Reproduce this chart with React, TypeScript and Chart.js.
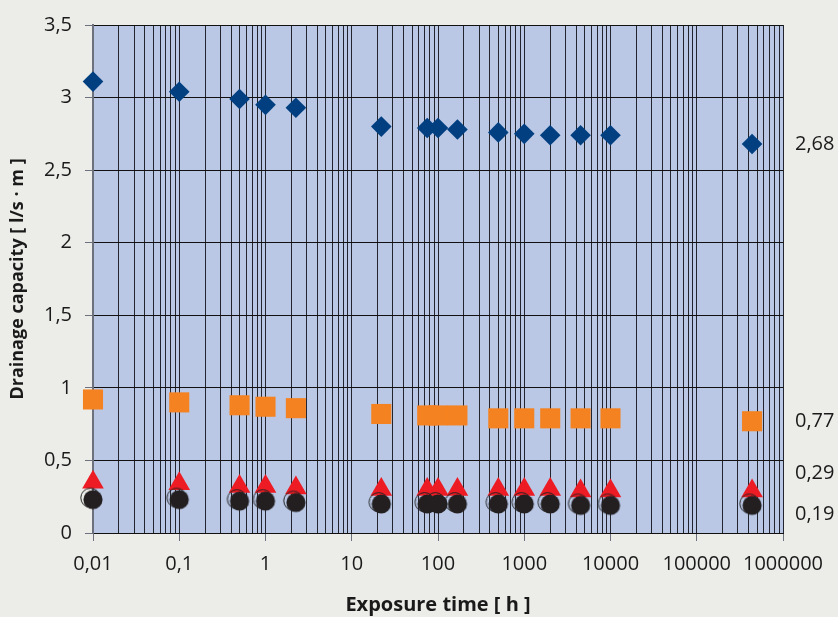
import React, { useEffect, useRef } from 'react';
import { Chart, registerables } from 'chart.js';

Chart.register(...registerables);

// ---------- data ----------
const EXPOSURE_HOURS = [0.01, 0.1, 0.5, 1, 2.25, 22, 75, 100, 168, 500, 1000, 2000, 4500, 10000, 438000];
const DIAMOND_VALUES = [3.11, 3.04, 2.99, 2.95, 2.93, 2.8, 2.79, 2.79, 2.78, 2.76, 2.75, 2.74, 2.74, 2.74, 2.68];
const SQUARE_VALUES = [0.92, 0.9, 0.88, 0.87, 0.86, 0.82, 0.81, 0.81, 0.81, 0.79, 0.79, 0.79, 0.79, 0.79, 0.77];
const TRIANGLE_VALUES = [0.35, 0.34, 0.32, 0.32, 0.31, 0.3, 0.3, 0.3, 0.3, 0.3, 0.3, 0.3, 0.29, 0.29, 0.29];
const CIRCLE_VALUES = [0.23, 0.23, 0.22, 0.22, 0.21, 0.2, 0.2, 0.2, 0.2, 0.2, 0.2, 0.2, 0.19, 0.19, 0.19];

const X_MAJOR_TICKS = [0.01, 0.1, 1, 10, 100, 1000, 10000, 100000, 1000000];
const X_TICK_LABELS = ['0,01', '0,1', '1', '10', '100', '1000', '10000', '100000', '1000000'];
const Y_MIN = 0;
const Y_MAX = 3.5;
const Y_STEP = 0.5;

const X_TITLE = 'Exposure time [ h ]';
const Y_TITLE = 'Drainage capacity [ l/s · m ]';

// ---------- styles ----------
const FONT = "'Open Sans', 'Noto Sans', sans-serif";
const PAGE_BG = '#ecece8';
const PLOT_BG = '#bac8e6';
const GRID = '#22252e';
const AXIS_GRAY = '#6c717d';
const TEXT = '#1a1a1a';
const DIAMOND_COLOR = '#013f80';
const SQUARE_COLOR = '#f58220';
const TRIANGLE_COLOR = '#ed1c24';
const CIRCLE_COLOR = '#231f20';
// vertical pixel nudges for the end-value labels (to avoid overlap)
const END_LABEL_NUDGE = [0, 0, -18, 9];

const isMajor = (v: number) => X_MAJOR_TICKS.some((m) => Math.abs(m - v) / m < 1e-9);

const X_ALL_TICKS: number[] = (() => {
  const out: number[] = [];
  for (let i = 0; i < X_MAJOR_TICKS.length - 1; i++) {
    for (let k = 1; k <= 9; k++) out.push(X_MAJOR_TICKS[i] * k);
  }
  out.push(X_MAJOR_TICKS[X_MAJOR_TICKS.length - 1]);
  return out;
})();

const fmt = (v: number) => String(v).replace('.', ',');

function makeCircleStyle(): HTMLCanvasElement {
  const c = document.createElement('canvas');
  c.width = 30;
  c.height = 30;
  const g = c.getContext('2d')!;
  const cx = 15, cy = 15, r = 9.6;
  // offset outline ring
  g.beginPath();
  g.arc(cx - 2.6, cy - 1.8, r, 0, Math.PI * 2);
  g.strokeStyle = '#222222';
  g.lineWidth = 1;
  g.stroke();
  // filled circle
  g.beginPath();
  g.arc(cx, cy, r, 0, Math.PI * 2);
  g.fillStyle = CIRCLE_COLOR;
  g.fill();
  return c;
}

export default function App() {
  const ref = useRef<HTMLCanvasElement | null>(null);

  useEffect(() => {
    document.body.style.margin = '0';
    document.body.style.background = PAGE_BG;
    const canvas = ref.current;
    if (!canvas) return;

    const plotBg = {
      id: 'plotBg',
      beforeDraw(chart: any) {
        const { ctx, chartArea: a } = chart;
        ctx.save();
        ctx.fillStyle = PLOT_BG;
        ctx.fillRect(a.left, a.top, a.right - a.left, a.bottom - a.top);
        ctx.restore();
      },
    };

    const series = [DIAMOND_VALUES, SQUARE_VALUES, TRIANGLE_VALUES, CIRCLE_VALUES];
    const endLabels = {
      id: 'endLabels',
      afterDatasetsDraw(chart: any) {
        const { ctx, chartArea: a, scales } = chart;
        ctx.save();
        ctx.font = `20px ${FONT}`;
        ctx.fillStyle = TEXT;
        ctx.textAlign = 'left';
        ctx.textBaseline = 'middle';
        series.forEach((vals, i) => {
          const v = vals[vals.length - 1];
          const y = scales.y.getPixelForValue(v) + END_LABEL_NUDGE[i];
          ctx.fillText(fmt(v), a.right + 12, y);
        });
        ctx.restore();
      },
    };

    const pts = (vals: number[]) => EXPOSURE_HOURS.map((x, i) => ({ x, y: vals[i] }));

    const chart = new Chart(canvas, {
      type: 'scatter',
      data: {
        datasets: [
          {
            label: 'A',
            data: pts(DIAMOND_VALUES),
            pointStyle: 'rectRot',
            pointRadius: 10.3,
            pointBackgroundColor: DIAMOND_COLOR,
            backgroundColor: DIAMOND_COLOR,
            pointBorderWidth: 0,
            borderWidth: 0,
            clip: false,
            order: 3,
          },
          {
            label: 'B',
            data: pts(SQUARE_VALUES),
            pointStyle: 'rect',
            pointRadius: 14.2,
            pointBackgroundColor: SQUARE_COLOR,
            backgroundColor: SQUARE_COLOR,
            pointBorderWidth: 0,
            borderWidth: 0,
            clip: false,
            order: 2,
          },
          {
            label: 'C',
            data: pts(TRIANGLE_VALUES),
            pointStyle: 'triangle',
            pointRadius: 12.5,
            pointBackgroundColor: TRIANGLE_COLOR,
            backgroundColor: TRIANGLE_COLOR,
            pointBorderWidth: 0,
            borderWidth: 0,
            clip: false,
            order: 1,
          },
          {
            label: 'D',
            data: pts(CIRCLE_VALUES),
            pointStyle: makeCircleStyle() as any,
            pointRadius: 10,
            pointBackgroundColor: CIRCLE_COLOR,
            backgroundColor: CIRCLE_COLOR,
            pointBorderWidth: 0,
            borderWidth: 0,
            clip: false,
            order: 0,
          },
        ] as any,
      },
      options: {
        animation: false,
        responsive: true,
        maintainAspectRatio: false,
        layout: { padding: { top: 21, right: 55, bottom: 0, left: 0 } },
        plugins: {
          legend: { display: false },
          tooltip: { enabled: false },
        },
        events: [],
        scales: {
          x: {
            type: 'logarithmic',
            min: X_MAJOR_TICKS[0],
            max: X_MAJOR_TICKS[X_MAJOR_TICKS.length - 1],
            afterBuildTicks: (scale: any) => {
              scale.ticks = X_ALL_TICKS.map((v) => ({ value: v, major: isMajor(v) }));
            },
            afterFit: (scale: any) => {
              scale.height = 84;
            },
            ticks: {
              autoSkip: false,
              maxRotation: 0,
              minRotation: 0,
              padding: 11,
              color: TEXT,
              font: { family: FONT, size: 20 },
              callback: (v: any) => {
                const i = X_MAJOR_TICKS.findIndex((m) => Math.abs(m - Number(v)) / m < 1e-9);
                return i >= 0 ? X_TICK_LABELS[i] : '';
              },
            },
            grid: {
              color: GRID,
              lineWidth: 1,
              tickLength: 8,
              tickColor: (ctx: any) => (ctx.tick && isMajor(ctx.tick.value) ? AXIS_GRAY : 'rgba(0,0,0,0)'),
            },
            border: { color: '#111111', width: 1 },
            title: {
              display: true,
              text: X_TITLE,
              color: TEXT,
              font: { family: FONT, size: 20, weight: 'bold' },
              padding: { top: 0, bottom: 0 },
            },
          },
          y: {
            type: 'linear',
            min: Y_MIN,
            max: Y_MAX,
            afterFit: (scale: any) => {
              scale.width = 93;
            },
            ticks: {
              stepSize: Y_STEP,
              padding: 13,
              color: TEXT,
              font: { family: FONT, size: 20 },
              callback: (v: any) => fmt(Number(v)),
            },
            grid: {
              color: '#111111',
              lineWidth: 1,
              tickLength: 8,
              tickColor: AXIS_GRAY,
            },
            border: { color: AXIS_GRAY, width: 2 },
            title: {
              display: true,
              text: Y_TITLE,
              color: TEXT,
              font: { family: FONT, size: 18, weight: 'bold' },
              padding: { top: 7, bottom: 0 },
            },
          },
        },
      } as any,
      plugins: [plotBg, endLabels],
    });

    return () => chart.destroy();
  }, []);

  return (
    <div
      style={{
        position: 'fixed',
        left: 0,
        top: 0,
        width: 838,
        height: 617,
        background: PAGE_BG,
      }}
    >
      <canvas ref={ref} />
    </div>
  );
}
